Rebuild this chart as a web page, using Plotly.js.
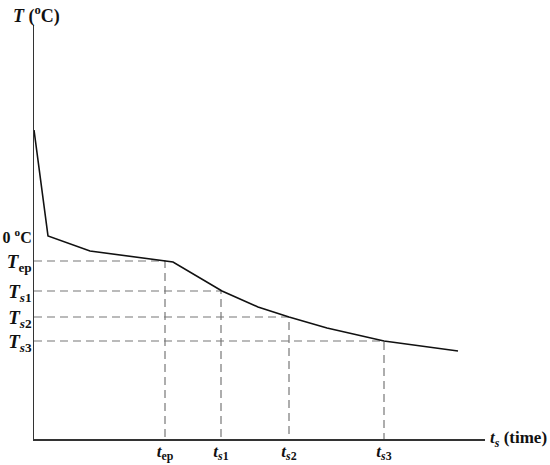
<!DOCTYPE html>
<html>
<head>
<meta charset="utf-8">
<script src="https://cdn.plot.ly/plotly-3.0.1.min.js"></script>
<style>html,body{margin:0;padding:0;background:#fff;}#chart{width:550px;height:465px;}</style>
</head>
<body>
<div id="chart"></div>
<script>
// Cooling curve (schematic units)
const curveTime = [0, 14, 56, 131, 139, 188, 224, 255, 293, 350, 366, 424];
const curveTemp = [309, 203, 188, 178, 177, 148, 132, 122, 111, 98, 96, 88];

// Reference points
const markTime = [131, 187, 255, 350];
const markTemp = [178, 148, 122, 98];
const markXLabels = ['<b><i>t</i><sub>ep</sub></b>', '<b><i>t</i><sub><i>s</i>1</sub></b>', '<b><i>t</i><sub><i>s</i>2</sub></b>', '<b><i>t</i><sub><i>s</i>3</sub></b>'];
const markYLabels = ['<b><i>T</i><sub>ep</sub></b>', '<b><i>T</i><sub><i>s</i>1</sub></b>', '<b><i>T</i><sub><i>s</i>2</sub></b>', '<b><i>T</i><sub><i>s</i>3</sub></b>'];

const zeroTemp = 203;
const zeroLabel = '<b><span style="font-size:16px">0 <sup>o</sup>C</span></b>';

const traces = [];
markTime.forEach((t, i) => {
  traces.push({
    x: [0, t, t], y: [markTemp[i], markTemp[i], 0],
    mode: 'lines', line: {color: '#777', width: 1.2, dash: '8px,5px'},
    hoverinfo: 'skip', showlegend: false
  });
});
traces.push({
  x: curveTime, y: curveTemp, mode: 'lines',
  line: {color: '#111', width: 1.6}, showlegend: false
});

const layout = {
  width: 550, height: 465,
  margin: {l: 34, r: 65, t: 25, b: 26},
  paper_bgcolor: '#fff', plot_bgcolor: '#fff',
  font: {family: '"Liberation Serif", "Times New Roman", serif', color: '#111', size: 16},
  xaxis: {
    range: [0, 451], showgrid: false, zeroline: false,
    showline: true, linecolor: '#333', linewidth: 1.5,
    tickvals: markTime, ticktext: markXLabels, ticks: '',
    tickfont: {size: 17}, ticklabelstandoff: -4, fixedrange: true
  },
  yaxis: {
    range: [0, 414], showgrid: false, zeroline: false,
    showline: true, linecolor: '#333', linewidth: 1.5,
    tickvals: [zeroTemp].concat(markTemp), ticktext: [zeroLabel].concat(markYLabels), ticks: '',
    tickfont: {size: 19}, ticklabelstandoff: -3, fixedrange: true
  },
  annotations: [
    {xref: 'paper', yref: 'paper', x: -0.05, y: 1.024, xanchor: 'left', yanchor: 'middle',
     text: '<b><i>T</i> (<sup>o</sup>C)</b>', showarrow: false, font: {size: 18}},
    {xref: 'paper', yref: 'paper', x: 1.006, y: 0, xanchor: 'left', yanchor: 'middle',
     text: '<b><i>t</i><sub><i>s</i></sub> (time)</b>', showarrow: false, font: {size: 17}}
  ]
};

Plotly.newPlot('chart', traces, layout, {displayModeBar: false, staticPlot: true});
</script>
</body>
</html>
